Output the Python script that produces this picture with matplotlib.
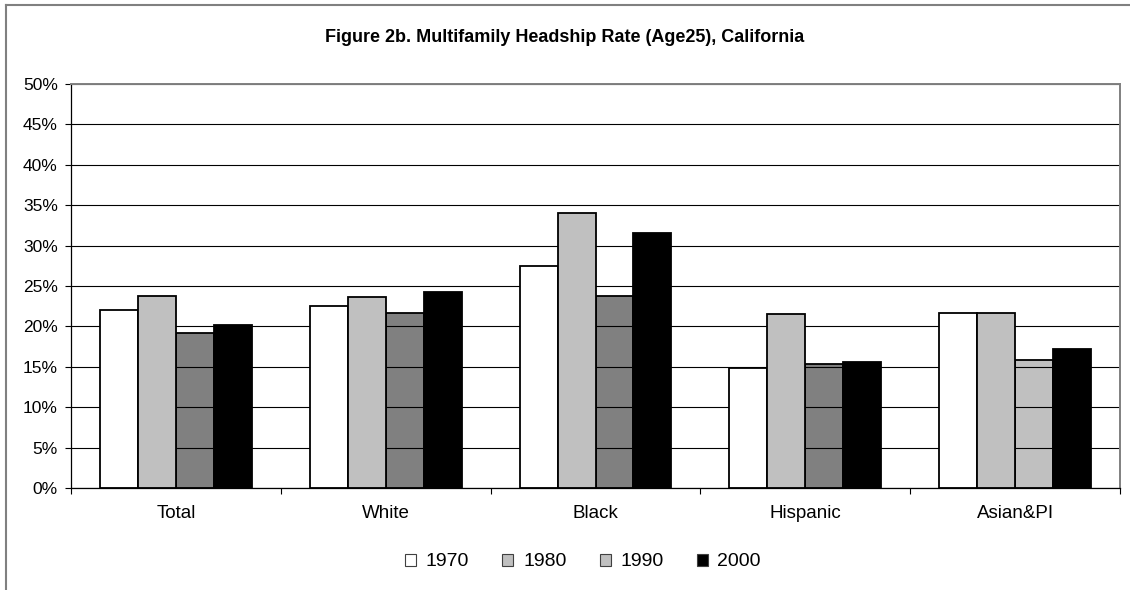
import matplotlib
matplotlib.use("Agg")
import matplotlib.pyplot as plt
import numpy as np
from matplotlib.patches import Patch
from matplotlib.lines import Line2D

plt.rcParams['font.family'] = ['Liberation Sans', 'DejaVu Sans']

categories = ["Total", "White", "Black", "Hispanic", "Asian&PI"]
years = ["1970", "1980", "1990", "2000"]
v1970 = [22.0, 22.5, 27.5, 14.9, 21.7]
v1980 = [23.8, 23.6, 34.0, 21.5, 21.6]
v1990 = [19.2, 21.6, 23.8, 15.4, 15.8]
v2000 = [20.2, 24.2, 31.6, 15.6, 17.2]
yticks = [0, 5, 10, 15, 20, 25, 30, 35, 40, 45, 50]
title = "Figure 2b. Multifamily Headship Rate (Age25), California"

W, H = 1130, 590
fig = plt.figure(figsize=(W / 100, H / 100), dpi=100)
ax = fig.add_axes([71 / W, (H - 488) / H, (1120 - 71) / W, (488 - 84) / H])

x = np.arange(len(categories))
w = 0.181
series = [v1970, v1980, v1990, v2000]
colors = [["#FFFFFF"] * 5, ["#C0C0C0"] * 5,
          ["#808080"] * 4 + ["#C0C0C0"], ["#000000"] * 5]
zorders = [2, 2, 0.4, 2]
for i, (vals, cols, z) in enumerate(zip(series, colors, zorders)):
    ax.bar(x + (i - 1.5) * w, vals, width=w, color=cols, edgecolor="black",
           linewidth=1.3, zorder=z)

ax.set_axisbelow(True)
ax.set_ylim(0, 50)
ax.set_xlim(-0.5, len(categories) - 0.5)
ax.set_yticks(yticks)
ax.set_yticklabels([f"{t}%" for t in yticks], fontsize=12.5)
ax.yaxis.grid(True, color="black", linewidth=0.8)
ax.tick_params(axis="y", direction="out", length=4.5, width=0.8, pad=5)

ax.set_xticks(np.arange(-0.5, len(categories), 1.0))
ax.set_xticklabels([])
ax.tick_params(axis="x", which="major", direction="out", length=4.5, width=0.8)
ax.set_xticks(x, minor=True)
ax.set_xticklabels(categories, minor=True, fontsize=13.5)
ax.tick_params(axis="x", which="minor", length=0, pad=12)

for s in ["left", "bottom"]:
    ax.spines[s].set_color("black")
    ax.spines[s].set_linewidth(0.9)
for s in ["top", "right"]:
    ax.spines[s].set_color("#808080")
    ax.spines[s].set_linewidth(1.4)

fig.text(0.5, (H - 38) / H, title, ha="center", va="center",
         fontsize=13, fontweight="bold")

legend_colors = ["#FFFFFF", "#C0C0C0", "#C0C0C0", "#000000"]
handles = [Patch(facecolor=c, edgecolor="#404040", linewidth=0.8) for c in legend_colors]
fig.legend(handles, years, loc="center", bbox_to_anchor=(583 / W, (H - 562) / H),
           ncol=4, frameon=False, fontsize=14, handlelength=0.57, handleheight=0.57,
           handletextpad=0.5, columnspacing=1.7, borderpad=0.2)

fig.add_artist(Line2D([6 / W, 1.0], [(H - 5) / H, (H - 5) / H], color="#808080",
                      linewidth=1.5, transform=fig.transFigure))
fig.add_artist(Line2D([6 / W, 6 / W], [0, (H - 5) / H], color="#808080",
                      linewidth=1.5, transform=fig.transFigure))

fig.savefig("out.png", dpi=100)
